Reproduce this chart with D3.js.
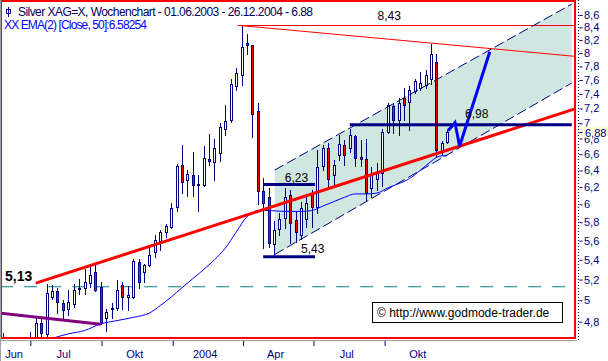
<!DOCTYPE html>
<html><head><meta charset="utf-8">
<script src="https://cdn.jsdelivr.net/npm/d3@7"></script>
<style>
body{margin:0;background:#fff;}
svg{display:block;font-family:"Liberation Sans",Arial,sans-serif;}
</style>
</head><body>
<svg id="c" width="608" height="361"></svg>
<script>
// ---------- data (weekly candles, Silver XAG=X) ----------
const firstWeek = "2003-05-27";
const openV  = [4.58,4.55,4.52,4.56,4.59,4.55,4.62,4.79,4.69,5.03,5.09,4.97,4.92,4.96,5.11,5.12,5.17,5.28,5.13,4.83,4.92,4.93,5.15,5.03,5.03,5.38,5.28,5.35,5.48,5.60,5.69,5.75,5.97,6.47,6.29,6.34,6.23,6.23,6.54,6.50,6.62,6.93,7.04,7.51,7.67,8.16,8.12,7.16,6.15,6.09,5.56,5.73,5.85,6.11,5.82,5.66,5.83,6.13,5.97,6.45,6.68,6.34,6.59,6.72,6.68,6.83,6.57,6.54,6.19,6.30,6.37,6.89,7.23,7.04,7.34,7.29,7.44,7.48,7.53,7.62,7.86,6.65,6.75];
const highV  = [4.70,4.62,4.60,4.63,4.64,4.71,4.84,4.84,5.16,5.15,5.12,5.00,5.10,5.16,5.21,5.31,5.33,5.36,5.18,4.92,4.97,5.20,5.18,5.14,5.41,5.41,5.36,5.54,5.66,5.71,5.78,6.01,6.48,6.72,6.41,6.63,6.34,6.71,6.86,6.79,7.00,7.25,7.61,7.77,8.43,8.30,8.13,7.27,6.31,6.19,5.81,5.90,6.19,6.17,5.91,6.03,6.09,6.17,6.65,6.72,6.74,6.53,6.85,6.78,6.93,6.85,6.78,6.79,6.44,6.49,6.93,7.28,7.27,7.34,7.48,7.51,7.62,7.71,7.75,8.14,7.99,6.77,6.91];
const lowV   = [4.50,4.47,4.44,4.50,4.52,4.50,4.58,4.64,4.65,5.01,4.88,4.83,4.86,4.94,5.06,5.06,5.13,5.09,4.78,4.72,4.83,4.91,4.92,4.91,5.02,5.12,5.18,5.34,5.43,5.50,5.64,5.74,5.93,6.13,6.10,6.10,5.93,6.21,6.46,6.28,6.51,6.85,7.02,7.45,7.53,7.99,6.82,6.00,5.52,5.53,5.43,5.66,5.74,5.58,5.59,5.62,5.75,5.75,5.90,6.41,6.19,6.21,6.53,6.47,6.63,6.45,6.45,6.05,6.09,6.17,6.21,6.87,6.87,6.85,7.04,6.91,7.42,7.45,7.48,7.54,6.56,6.60,6.74];
const closeV = [4.55,4.52,4.56,4.59,4.55,4.62,4.79,4.70,5.07,5.09,4.98,4.91,4.98,5.10,5.12,5.18,5.25,5.10,4.80,4.89,4.93,5.10,5.03,5.05,5.39,5.18,5.35,5.45,5.61,5.69,5.76,5.96,6.45,6.26,6.36,6.22,6.24,6.55,6.51,6.68,6.95,7.03,7.54,7.70,8.10,8.12,7.12,6.15,6.02,5.57,5.71,5.83,6.09,5.79,5.69,5.96,6.01,5.97,6.44,6.68,6.30,6.47,6.73,6.59,6.85,6.55,6.54,6.13,6.36,6.38,6.89,7.25,7.04,7.28,7.25,7.46,7.58,7.56,7.67,7.99,6.65,6.74,6.88];

// EMA line (week index, value)
const emaWeek  = [9,12,15,18,21,24,27,29,31,33,35,37,39,41,43,45,46,47,49,52,55,57,59,61,63,65,67,69,71,73,75,77,79,80,81,82];
const emaValue = [4.65,4.69,4.72,4.78,4.81,4.84,4.88,4.95,5.03,5.12,5.21,5.30,5.40,5.52,5.69,5.86,5.90,5.93,5.93,5.92,5.92,5.93,5.98,6.03,6.08,6.12,6.12,6.13,6.19,6.24,6.30,6.40,6.51,6.56,6.58,6.58254];

// axes
const yTickValues = [8.6,8.4,8.2,8,7.8,7.6,7.4,7.2,7,6.8,6.6,6.4,6.2,6,5.8,5.6,5.4,5.2,5,4.8];
const xTickDates  = ["2003-07-01","2003-10-01","2004-01-01","2004-04-01","2004-07-01","2004-10-01"];
const xLabelText  = ["Jun","Jul","Okt","2004","Apr","Jul","Okt"];
const xLabelDates = ["2003-06-10","2003-08-13","2003-11-13","2004-02-12","2004-05-13","2004-08-13","2004-11-13"];

// texts
const titleText = "Silver XAG=X, Wochenchart - 01.06.2003 - 26.12.2004 - 6.88";
const emaText   = "XX EMA(2) [Close, 50]:6.58254";
const lastPrice = 6.88;
const copyText  = "\u00A9 http://www.godmode-trader.de";

// annotations (date, value)
const supportLine    = [["2003-07-08",5.165],["2005-06-03",7.19]];
const resistanceLine = [["2004-03-28",8.43],["2005-06-04",7.95]];
const topLine        = [["2004-03-25",8.43],["2005-06-04",8.43]];
const channelUpper   = [["2004-05-12",6.405],["2005-05-31",8.78]];
const channelLower   = [["2004-05-12",5.455],["2005-05-31",7.557]];
const purpleLine     = [["2003-05-23",4.878],["2003-09-30",4.776]];
const level513       = [["2003-05-23",5.13],["2005-05-31",5.13]];
const level623       = [["2004-04-27",6.23],["2004-07-03",6.23]];
const level543       = [["2004-04-27",5.43],["2004-07-03",5.43]];
const level698       = [["2004-08-17",6.98],["2005-05-31",6.98]];
const projection     = [["2004-12-22",6.90],["2004-12-31",7.01],["2005-01-06",6.70],["2005-02-14",8.02]];

// ---------- scales ----------
const parse = d3.utcParse("%Y-%m-%d");
const x = d3.scaleUtc().domain([parse("2003-05-27"), parse("2004-10-01")]).range([3.3, 384.6]);
const y = d3.scaleLog().domain([4.8, 8.6]).range([321.7, 15]);
const t0 = parse(firstWeek);
const weekDate = i => d3.utcDay.offset(t0, 7*i);

const NAVY = "#000080", RED = "#ff0000";
const svg = d3.select("#c");

svg.append("defs").append("clipPath").attr("id","plot")
  .append("rect").attr("x",1).attr("y",1).attr("width",574).attr("height",337);

const P = pts => pts.map(([d,v]) => [x(parse(d)), y(v)]);
const line = d3.line();

const g = svg.append("g").attr("clip-path","url(#plot)");

// channel fill
const cu = P(channelUpper), cl = P(channelLower);
g.append("path").attr("d", line([cu[0],cu[1],cl[1],cl[0]]) + "Z").attr("fill","#cfe6e1");

// teal dashed 5,13
g.append("path").attr("d", line(P(level513))).attr("stroke","#008080").attr("stroke-width",1.2)
  .attr("stroke-dasharray","13,11").attr("fill","none");

// red thin lines
g.append("path").attr("d", line(P(topLine))).attr("stroke",RED).attr("stroke-width",1).attr("fill","none");
g.append("path").attr("d", line(P(resistanceLine))).attr("stroke",RED).attr("stroke-width",1).attr("fill","none");

// candles
const cg = g.append("g");
openV.forEach((o,i) => {
  const cx = Math.round(x(weekDate(i)));
  const h = highV[i], l = lowV[i], c = closeV[i];
  cg.append("line").attr("x1",cx+0.5).attr("x2",cx+0.5)
    .attr("y1",Math.round(y(h))).attr("y2",Math.round(y(l))+1)
    .attr("stroke",NAVY).attr("stroke-width",1);
  const top = Math.round(y(Math.max(o,c))), bot = Math.round(y(Math.min(o,c)));
  cg.append("rect").attr("x",cx-0.5).attr("width",2)
    .attr("y",top+0.5).attr("height",Math.max(1,bot-top))
    .attr("fill", c < o ? RED : "#fff").attr("stroke",NAVY).attr("stroke-width",1);
});

// channel dashed edges
[cu, cl].forEach(pts => g.append("path").attr("d", line(pts)).attr("stroke",NAVY).attr("stroke-width",1)
  .attr("stroke-dasharray","10,4").attr("fill","none"));

// EMA
const ema = d3.line().curve(d3.curveMonotoneX)(emaWeek.map((w,k)=>[x(weekDate(w)), y(emaValue[k])]));
g.append("path").attr("d", ema).attr("stroke","#0000ff").attr("stroke-width",1).attr("fill","none");

// purple line
g.append("path").attr("d", line(P(purpleLine))).attr("stroke","#800080").attr("stroke-width",3).attr("fill","none");

// support line (thick red)
g.append("path").attr("d", line(P(supportLine))).attr("stroke",RED).attr("stroke-width",3).attr("fill","none");

// navy horizontal levels
[level623, level543, level698].forEach(l => g.append("path").attr("d", line(P(l)))
  .attr("stroke",NAVY).attr("stroke-width",3).attr("fill","none"));

// projection arrow
g.append("path").attr("d", line(P(projection))).attr("stroke","#0000ff").attr("stroke-width",3)
  .attr("stroke-linejoin","miter").attr("fill","none");

// annotation labels
const lab = (txt, xx, yy, size, anchor, weight) => svg.append("text").attr("x",xx).attr("y",yy)
  .attr("font-size",size).attr("text-anchor",anchor||"middle").attr("font-weight",weight||"normal")
  .attr("fill","#000").text(txt);
lab("8,43", x(parse("2004-10-07")), 20, 12);
lab("6,23", x(parse("2004-06-09")), 182, 12);
lab("5,43", x(parse("2004-06-30")), 253, 12);
lab("6,98", x(parse("2005-01-28")), 118, 12);
lab("5,13", 5, 281, 14, "start", "bold");

// copyright box
svg.append("rect").attr("x",372.5).attr("y",302.5).attr("width",190).attr("height",20)
  .attr("fill","#fff").attr("stroke","#000").attr("stroke-width",1);
svg.append("text").attr("x",377).attr("y",317).attr("font-size",12).attr("fill","#000").text(copyText);

// frame
svg.append("rect").attr("x",1).attr("y",1).attr("width",574).attr("height",337)
  .attr("fill","none").attr("stroke",RED).attr("stroke-width",2);

// header
svg.append("g").attr("stroke",NAVY).attr("fill","none").call(s => {
  s.append("line").attr("x1",8.5).attr("x2",8.5).attr("y1",7).attr("y2",17);
  s.append("rect").attr("x",6.5).attr("y",9.5).attr("width",4).attr("height",4);
});
svg.append("text").attr("x",18).attr("y",16).attr("font-size",12).attr("fill","#00005a")
  .attr("textLength",295).attr("lengthAdjust","spacing").text(titleText);
svg.append("text").attr("x",4).attr("y",29).attr("font-size",12).attr("fill","#0000ff")
  .attr("textLength",143).attr("lengthAdjust","spacing").text(emaText);

// right axis
const fmt = v => String(v).replace(".", ",");
const ya = svg.append("g").attr("transform","translate(578,0)")
  .call(d3.axisRight(y).tickValues(yTickValues).tickFormat(fmt).tickSize(0).tickPadding(6));
ya.select(".domain").remove();
ya.selectAll(".tick text").attr("font-size",11).attr("fill",NAVY).attr("font-family","Liberation Sans, Arial").attr("x",6);
ya.selectAll(".tick").append("line").attr("x1",1.5).attr("x2",4.5).attr("stroke",NAVY);
ya.insert("line",":first-child").attr("x1",0.5).attr("x2",0.5).attr("y1",0).attr("y2",340)
  .attr("stroke",NAVY).attr("stroke-dasharray","1,2");
// last price box
const lp = svg.append("g").attr("transform",`translate(578,${Math.round(y(lastPrice))})`);
lp.append("rect").attr("x",1.5).attr("y",-5.5).attr("width",29).attr("height",11).attr("fill","#ffffdc");
lp.append("line").attr("x1",1.5).attr("x2",4.5).attr("y1",0.5).attr("y2",0.5).attr("stroke",NAVY);
lp.append("text").attr("x",7).attr("y",4.5).attr("font-size",11).attr("fill",NAVY).text(fmt(lastPrice));

// bottom axis
svg.append("line").attr("x1",0).attr("x2",577).attr("y1",340.5).attr("y2",340.5).attr("stroke","#a0a0a0");
const xa = svg.append("g").attr("transform","translate(0,341)")
  .call(d3.axisBottom(x).tickValues(xTickDates.map(parse)).tickFormat("").tickSizeInner(5).tickSizeOuter(0));
xa.select(".domain").remove();
xa.selectAll(".tick line").attr("stroke",NAVY);
svg.append("g").selectAll("text").data(xLabelText).join("text")
  .attr("x",(d,i)=>x(parse(xLabelDates[i]))).attr("y",358).attr("text-anchor","middle")
  .attr("font-size",11).attr("fill",NAVY).text(d=>d);
svg.append("line").attr("x1",0.5).attr("x2",0.5).attr("y1",0).attr("y2",361).attr("stroke","#a0a0a0");
</script>
</body></html>
